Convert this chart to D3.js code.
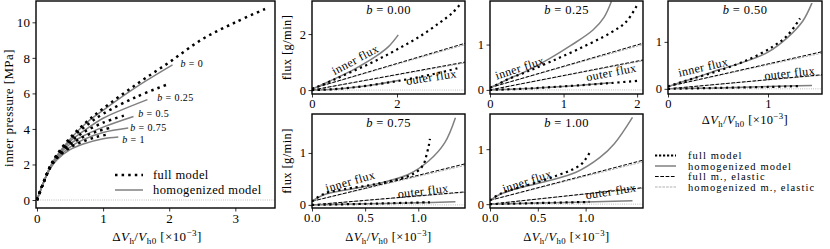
<!DOCTYPE html>
<html>
<head>
<meta charset="utf-8">
<script src="https://cdn.jsdelivr.net/npm/d3@7"></script>
<style>
body { margin: 0; background: #fff; }
svg text { font-family: "Liberation Serif", "DejaVu Serif", serif; fill: #000; letter-spacing: 0.4px; }
</style>
</head>
<body>
<div id="chart"></div>
<script>
// ---------- inner pressure [MPa] vs dV/V (left panel) ----------
var bLabels = ["0", "0.25", "0.5", "0.75", "1"];
var pFull0 = [[0,0],[0.1,1.0],[0.2,1.9],[0.3,2.55],[0.5,3.5],[0.75,4.4],[1,5.15],[1.5,6.5],[2,7.75],[2.5,9.05],[3,10.0],[3.45,10.75]];
var pFull25 = [[0,0],[0.1,1.0],[0.2,1.9],[0.3,2.5],[0.5,3.4],[0.75,4.2],[1,4.85],[1.5,5.8],[1.97,6.5]];
var pFull50 = [[0,0],[0.1,1.0],[0.2,1.88],[0.3,2.45],[0.5,3.25],[0.7,3.8],[1,4.35],[1.36,4.8]];
var pFull75 = [[0,0],[0.1,1.0],[0.2,1.85],[0.3,2.4],[0.5,3.1],[0.7,3.55],[0.9,3.85],[1.15,4.1]];
var pFull100 = [[0,0],[0.1,1.0],[0.2,1.82],[0.3,2.35],[0.5,2.95],[0.7,3.3],[0.9,3.55],[1.06,3.68]];
var pHom0 = [[0,0],[0.1,1.0],[0.2,1.88],[0.3,2.5],[0.5,3.42],[0.75,4.35],[1,5.05],[1.5,6.35],[2.05,7.6]];
var pHom25 = [[0,0],[0.1,1.0],[0.2,1.86],[0.3,2.45],[0.5,3.3],[0.75,4.0],[1,4.6],[1.3,5.1],[1.67,5.65]];
var pHom50 = [[0,0],[0.1,1.0],[0.2,1.84],[0.3,2.4],[0.5,3.15],[0.7,3.6],[1,4.1],[1.46,4.7]];
var pHom75 = [[0,0],[0.1,1.0],[0.2,1.8],[0.3,2.33],[0.5,2.98],[0.7,3.4],[1,3.8],[1.38,4.05]];
var pHom100 = [[0,0],[0.1,0.98],[0.2,1.76],[0.3,2.25],[0.5,2.83],[0.7,3.15],[1,3.45],[1.23,3.55]];
// where the "b = .." labels sit (data units)
var bLabelPos = [[2.17,7.5],[1.82,5.55],[1.53,4.65],[1.41,3.9],[1.29,3.2]];

// ---------- flux [g/min] panels ----------
var fluxTitles = ["0.00", "0.25", "0.50", "0.75", "1.00"];
// b = 0.00
var inFull0 = [[0,0.05],[0.1,0.1],[0.5,0.36],[1,0.7],[1.5,1.05],[2,1.45],[2.5,1.88],[3,2.4],[3.3,2.75],[3.48,3.05]];
var inHom0 = [[0,0.05],[0.1,0.1],[0.5,0.38],[1,0.75],[1.5,1.2],[1.8,1.55],[2.03,1.97]];
var outFull0 = [[0,0],[0.5,0.03],[1,0.1],[1.5,0.2],[2,0.32],[2.5,0.46],[3,0.62],[3.48,0.8]];
var outHom0 = [[0,0],[0.5,0.03],[1,0.1],[1.5,0.2],[2.03,0.34]];
var inEl0 = [[0,0.05],[3.6,1.67]], inElH0 = [[0,0.05],[3.6,1.62]];
var outEl0 = [[0,0],[3.6,1.0]], outElH0 = [[0,0],[3.6,0.97]];
// b = 0.25
var inFull25 = [[0,0.05],[0.1,0.12],[0.25,0.24],[0.5,0.4],[0.82,0.62],[1.2,0.9],[1.63,1.25],[1.85,1.5],[2.0,1.87]];
var inHom25 = [[0,0.05],[0.1,0.12],[0.25,0.24],[0.5,0.42],[0.82,0.7],[1.1,0.98],[1.4,1.32],[1.55,1.6],[1.65,1.95]];
var outFull25 = [[0,0],[0.5,0.03],[0.82,0.06],[1.2,0.1],[1.63,0.15],[2.0,0.2]];
var outHom25 = [[0,0],[0.5,0.03],[0.82,0.06],[1.2,0.1],[1.65,0.16]];
var inEl25 = [[0,0.05],[2.08,1.03]], inElH25 = [[0,0.05],[2.08,1.0]];
var outEl25 = [[0,0],[2.08,0.66]], outElH25 = [[0,0],[2.08,0.64]];
// b = 0.50
var inFull50 = [[0,0.05],[0.1,0.12],[0.25,0.22],[0.5,0.38],[0.8,0.62],[1.05,0.9],[1.2,1.15],[1.32,1.5]];
var inHom50 = [[0,0.05],[0.1,0.12],[0.25,0.22],[0.5,0.4],[0.8,0.6],[1.0,0.78],[1.2,1.1],[1.35,1.45],[1.44,1.83]];
var outFull50 = [[0,0],[0.5,0.02],[1.0,0.04],[1.32,0.06]];
var outHom50 = [[0,0],[0.5,0.02],[1.0,0.05],[1.44,0.07]];
var inEl50 = [[0,0.05],[1.54,0.79]], inElH50 = [[0,0.05],[1.54,0.76]];
var outEl50 = [[0,0],[1.54,0.3]], outElH50 = [[0,0],[1.54,0.29]];
// b = 0.75
var inFull75 = [[0,0.07],[0.12,0.22],[0.3,0.3],[0.6,0.4],[0.9,0.55],[1.0,0.66],[1.05,0.78],[1.08,0.98],[1.1,1.15],[1.11,1.27]];
var inHom75 = [[0,0.07],[0.12,0.2],[0.3,0.28],[0.6,0.4],[0.9,0.58],[1.1,0.85],[1.25,1.2],[1.35,1.68]];
var outFull75 = [[0,0],[0.5,0.02],[0.9,0.04],[1.11,0.05]];
var outHom75 = [[0,0],[0.5,0.02],[1.0,0.04],[1.35,0.06]];
var inEl75 = [[0,0.07],[1.44,0.79]], inElH75 = [[0,0.07],[1.44,0.76]];
var outEl75 = [[0,0],[1.44,0.25]], outElH75 = [[0,0],[1.44,0.24]];
// b = 1.00
var inFull100 = [[0,0.07],[0.12,0.2],[0.3,0.3],[0.5,0.4],[0.7,0.52],[0.85,0.62],[0.95,0.72],[1.0,0.82],[1.04,0.93]];
var inHom100 = [[0,0.07],[0.12,0.19],[0.3,0.29],[0.6,0.42],[0.9,0.58],[1.15,0.85],[1.3,1.1],[1.49,1.58]];
var outFull100 = [[0,0],[0.5,0.02],[1.04,0.04]];
var outHom100 = [[0,0],[0.5,0.02],[1.0,0.04],[1.49,0.06]];
var inEl100 = [[0,0.07],[1.6,0.8]], inElH100 = [[0,0.07],[1.6,0.77]];
var outEl100 = [[0,0],[1.6,0.3]], outElH100 = [[0,0],[1.6,0.29]];

// "inner flux"/"outer flux" annotations: [x, y, angle]
var innerLab = [[1.06,0.96,-28],[0.42,0.40,-18],[0.36,0.38,-13],[0.37,0.38,-16],[0.40,0.35,-18]];
var outerLab = [[2.82,0.32,-9],[1.66,0.3,-11],[1.22,0.25,-6],[1.05,0.19,-7],[1.27,0.16,-9]];

var legendNames = ["full model", "homogenized model", "full m., elastic", "homogenized m., elastic"];

//----------layout----------
var svg = d3.select("#chart").append("svg")
    .attr("width", 830)
    .attr("height", 249);
var clipCount = 0;

var styleFull = { stroke: "#000", width: 2.5, dash: "2.5 4.1" };
var styleFullF = { stroke: "#000", width: 2.2, dash: "2.2 3.6" };
var styleHom = { stroke: "#808080", width: 1.5, dash: null };
var styleEl = { stroke: "#000", width: 1, dash: "3.7 1.6" };
var styleElH = { stroke: "#8c8c8c", width: 0.7, dash: "2.6 1.1" };

function dvLabel(t) {
    t.append("tspan").text("Δ");
    t.append("tspan").attr("font-style", "italic").text("V");
    t.append("tspan").attr("font-size", "0.7em").attr("dy", 3).text("h");
    t.append("tspan").attr("dy", -3).text("/");
    t.append("tspan").attr("font-style", "italic").text("V");
    t.append("tspan").attr("font-size", "0.7em").attr("dy", 3).text("h0");
    t.append("tspan").attr("dy", -3).text(" [×10");
    t.append("tspan").attr("font-size", "0.7em").attr("dy", -5).text("−3");
    t.append("tspan").attr("dy", 5).text("]");
}

function bText(t, val) {
    t.append("tspan").attr("font-style", "italic").text("b");
    t.append("tspan").text(" = " + val);
}

function makePanel(box, xDom, yDom, xTicks, yTicks, xFmt, fs) {
    var x = d3.scaleLinear().domain(xDom).range([box.x0, box.x1]);
    var y = d3.scaleLinear().domain(yDom).range([box.y1, box.y0]);
    var id = "clip" + (clipCount++);
    svg.append("clipPath").attr("id", id)
        .append("rect")
        .attr("x", box.x0).attr("y", box.y0)
        .attr("width", box.x1 - box.x0).attr("height", box.y1 - box.y0);
    var xAxis = svg.append("g")
        .attr("transform", "translate(0," + box.y1 + ")")
        .call(d3.axisBottom(x).tickValues(xTicks).tickFormat(xFmt).tickSize(3.5).tickPadding(2));
    var yAxis = svg.append("g")
        .attr("transform", "translate(" + box.x0 + ",0)")
        .call(d3.axisLeft(y).tickValues(yTicks).tickFormat(d3.format("d")).tickSize(3.5).tickPadding(2));
    [xAxis, yAxis].forEach(function (a) {
        a.select(".domain").remove();
        a.selectAll(".tick line").attr("stroke", "#000").attr("stroke-width", 0.8);
        a.selectAll(".tick text").attr("font-size", fs);
    });
    // zero line
    svg.append("line")
        .attr("x1", box.x0).attr("x2", box.x1)
        .attr("y1", y(0)).attr("y2", y(0))
        .attr("stroke", "#9a9a9a").attr("stroke-width", 0.8)
        .attr("stroke-dasharray", "0.8 1.4");
    var plot = svg.append("g").attr("clip-path", "url(#" + id + ")");
    return { x: x, y: y, plot: plot, box: box };
}

function frame(p) {
    svg.append("rect")
        .attr("x", p.box.x0).attr("y", p.box.y0)
        .attr("width", p.box.x1 - p.box.x0).attr("height", p.box.y1 - p.box.y0)
        .attr("fill", "none").attr("stroke", "#000").attr("stroke-width", 1.4);
}

function drawLine(p, data, st) {
    var line = d3.line()
        .x(function (d) { return p.x(d[0]); })
        .y(function (d) { return p.y(d[1]); })
        .curve(d3.curveCatmullRom.alpha(0.5));
    p.plot.append("path")
        .datum(data)
        .attr("d", line)
        .attr("fill", "none")
        .attr("stroke", st.stroke)
        .attr("stroke-width", st.width)
        .attr("stroke-dasharray", st.dash);
}

//----------left panel----------
var pl = makePanel({ x0: 36, x1: 275, y0: 1, y1: 208 }, [-0.015, 3.6], [-0.45, 11.2],
    [0, 1, 2, 3], [0, 2, 4, 6, 8, 10], d3.format("d"), 13);
var homs = [pHom0, pHom25, pHom50, pHom75, pHom100];
var fulls = [pFull0, pFull25, pFull50, pFull75, pFull100];
homs.forEach(function (d) { drawLine(pl, d, styleHom); });
fulls.forEach(function (d) { drawLine(pl, d, styleFull); });
bLabels.forEach(function (b, i) {
    svg.append("text")
        .attr("x", pl.x(bLabelPos[i][0]))
        .attr("y", pl.y(bLabelPos[i][1]))
        .attr("font-size", 10)
        .call(bText, b);
});
// legend
[[styleFull, "full model"], [styleHom, "homogenized model"]].forEach(function (e, i) {
    var yy = 175 + i * 15;
    svg.append("line").attr("x1", 115).attr("x2", 143).attr("y1", yy).attr("y2", yy)
        .attr("stroke", e[0].stroke).attr("stroke-width", e[0].width)
        .attr("stroke-dasharray", e[0].dash);
    svg.append("text").attr("x", 153).attr("y", yy + 4).attr("font-size", 12.5).text(e[1]);
});
frame(pl);
svg.append("text")
    .attr("transform", "translate(13,108) rotate(-90)")
    .attr("text-anchor", "middle").attr("font-size", 13)
    .text("inner pressure [MPa]");
svg.append("text").attr("x", 157).attr("y", 241).attr("text-anchor", "middle")
    .attr("font-size", 13).call(dvLabel);

//----------flux panels----------
var boxes = [
    { x0: 312, x1: 465, y0: 1, y1: 94 },
    { x0: 490, x1: 643, y0: 1, y1: 94 },
    { x0: 668, x1: 822, y0: 1, y1: 94 },
    { x0: 312, x1: 465, y0: 114, y1: 208 },
    { x0: 490, x1: 643, y0: 114, y1: 208 }
];
var xDoms = [[0, 3.6], [0, 2.08], [0, 1.54], [0, 1.44], [0, 1.6]];
var yDoms = [[-0.14, 3.18], [-0.09, 1.96], [-0.11, 1.87], [-0.06, 1.75], [-0.07, 1.64]];
var xTickSets = [[0, 2], [0, 1, 2], [0, 1], [0, 0.5, 1.0], [0, 0.5, 1.0]];
var yTickSets = [[0, 2], [0, 1], [0, 1], [0, 1], [0, 1]];
var xFmts = [d3.format("d"), d3.format("d"), d3.format("d"), d3.format(".1f"), d3.format(".1f")];
var series = [
    [inFull0, inHom0, outFull0, outHom0, inEl0, inElH0, outEl0, outElH0],
    [inFull25, inHom25, outFull25, outHom25, inEl25, inElH25, outEl25, outElH25],
    [inFull50, inHom50, outFull50, outHom50, inEl50, inElH50, outEl50, outElH50],
    [inFull75, inHom75, outFull75, outHom75, inEl75, inElH75, outEl75, outElH75],
    [inFull100, inHom100, outFull100, outHom100, inEl100, inElH100, outEl100, outElH100]
];

boxes.forEach(function (box, i) {
    var p = makePanel(box, xDoms[i], yDoms[i], xTickSets[i], yTickSets[i], xFmts[i], 12.5);
    var s = series[i];
    drawLine(p, s[5], styleElH);
    drawLine(p, s[7], styleElH);
    drawLine(p, s[4], styleEl);
    drawLine(p, s[6], styleEl);
    drawLine(p, s[1], styleHom);
    drawLine(p, s[3], styleHom);
    drawLine(p, s[0], styleFullF);
    drawLine(p, s[2], styleFullF);
    [[innerLab[i], "inner flux"], [outerLab[i], "outer flux"]].forEach(function (l) {
        svg.append("text")
            .attr("transform", "translate(" + p.x(l[0][0]) + "," + p.y(l[0][1]) + ") rotate(" + l[0][2] + ")")
            .attr("text-anchor", "middle").attr("font-size", 12)
            .text(l[1]);
    });
    svg.append("text")
        .attr("x", (box.x0 + box.x1) / 2).attr("y", box.y0 + 13)
        .attr("text-anchor", "middle").attr("font-size", 12.5)
        .call(bText, fluxTitles[i]);
    frame(p);
    if (i === 0 || i === 3) {
        svg.append("text")
            .attr("transform", "translate(291," + (box.y0 + box.y1) / 2 + ") rotate(-90)")
            .attr("text-anchor", "middle").attr("font-size", 12.5)
            .text("flux [g/min]");
    }
    if (i >= 2) {
        svg.append("text").attr("x", (box.x0 + box.x1) / 2).attr("y", box.y1 + (i === 2 ? 30 : 33))
            .attr("text-anchor", "middle").attr("font-size", 12.5).call(dvLabel);
    }
});

//----------legend (right)----------
[styleFull, styleHom, styleEl, styleElH].forEach(function (st, i) {
    var yy = 155.5 + i * 10.5;
    svg.append("line").attr("x1", 655).attr("x2", 676).attr("y1", yy).attr("y2", yy)
        .attr("stroke", st.stroke).attr("stroke-width", st === styleFull ? 2.2 : st.width)
        .attr("stroke-dasharray", st === styleFull ? "2.2 1.8" : st.dash);
    svg.append("text").attr("x", 688).attr("y", yy + 3.5).attr("font-size", 10.5)
        .style("letter-spacing", "1.1px").text(legendNames[i]);
});
</script>
</body>
</html>
